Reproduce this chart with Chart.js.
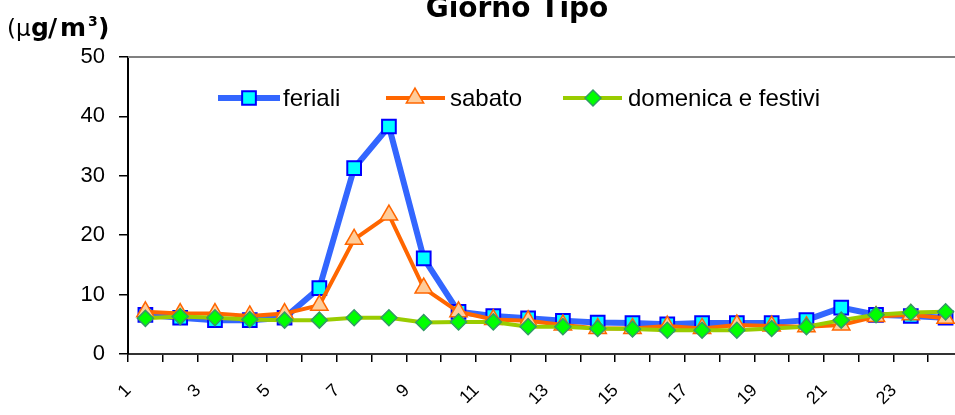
<!DOCTYPE html>
<html>
<head>
<meta charset="utf-8">
<script src="https://cdn.jsdelivr.net/npm/chart.js@4/dist/chart.umd.min.js"></script>
<style>
  html, body { margin: 0; padding: 0; overflow: hidden; background: #ffffff; }
  #c { display: block; }
</style>
</head>
<body>
<canvas id="c" width="963" height="415"></canvas>
<script>
// Hourly profile (hour of day 1..24), concentration in µg/m³
const hours = ['1','2','3','4','5','6','7','8','9','10','11','12',
               '13','14','15','16','17','18','19','20','21','22','23','24'];
const feriali  = [6.6, 6.1, 5.7, 5.7, 6.1, 11.1, 31.3, 38.3, 16.1, 7.1, 6.4, 6.0,
                  5.6, 5.3, 5.2, 5.0, 5.2, 5.2, 5.2, 5.7, 7.8, 6.6, 6.4, 6.1];
const sabato   = [7.1, 6.8, 6.8, 6.4, 6.8, 8.2, 19.3, 23.4, 11.1, 7.1, 5.8, 5.6,
                  4.9, 4.3, 4.3, 4.7, 4.3, 4.9, 4.7, 4.6, 4.9, 6.3, 6.6, 6.0];
const domenica = [6.0, 6.3, 6.1, 5.8, 5.7, 5.7, 6.1, 6.1, 5.3, 5.4, 5.4, 4.6,
                  4.6, 4.3, 4.2, 4.0, 4.0, 4.0, 4.3, 4.6, 5.7, 6.6, 7.0, 7.1];
const seriesNames = ['feriali', 'sabato', 'domenica e festivi'];
const yTicks = [0, 10, 20, 30, 40, 50];
const chartTitle = 'Giorno Tipo';

const SANS = "'Liberation Sans', Arial, sans-serif";
const WIDE = "'DejaVu Sans', Verdana, sans-serif";

// Title, unit label, plot frame and an in-plot legend (line + marker samples)
const decorations = {
  id: 'decorations',
  beforeDatasetsDraw(chart) {
    const { ctx, chartArea } = chart;
    ctx.save();
    ctx.strokeStyle = '#808080';
    ctx.lineWidth = 2;
    ctx.beginPath();
    ctx.moveTo(chartArea.left, chartArea.top);
    ctx.lineTo(chartArea.right, chartArea.top);
    ctx.stroke();
    ctx.restore();
  },
  afterDatasetsDraw(chart) {
    const { ctx } = chart;
    ctx.save();
    ctx.fillStyle = '#000';
    ctx.textBaseline = 'alphabetic';

    // chart title
    ctx.font = "bold 28px " + WIDE;
    ctx.textAlign = 'center';
    ctx.fillText(chartTitle, 517, 17);

    // unit label (µg/m³)
    ctx.textAlign = 'left';
    ctx.font = "23px " + WIDE;
    ctx.fillText('(\u03bc', 7, 36);
    ctx.font = "bold 25px " + WIDE;
    ctx.fillText('g', 31, 36);
    ctx.fillText('/', 48, 36);
    ctx.fillText('m', 60, 36);
    ctx.fillText(')', 98, 36);
    ctx.font = "bold 14px " + WIDE;
    ctx.fillText('3', 88, 26);

    // legend
    const items = [
      { ds: 0, x0: 218, x1: 280, mx: 249, tx: 283 },
      { ds: 1, x0: 386, x1: 445, mx: 415, tx: 450 },
      { ds: 2, x0: 563, x1: 622, mx: 593, tx: 628 }
    ];
    const ly = 98;
    items.forEach(it => {
      const d = chart.data.datasets[it.ds];
      ctx.strokeStyle = d.borderColor;
      ctx.lineWidth = d.borderWidth;
      ctx.beginPath();
      ctx.moveTo(it.x0, ly);
      ctx.lineTo(it.x1, ly);
      ctx.stroke();
      ctx.fillStyle = d.pointBackgroundColor;
      ctx.strokeStyle = d.pointBorderColor;
      ctx.lineWidth = d.pointBorderWidth;
      Chart.helpers.drawPoint(ctx, {
        pointStyle: d.pointStyle, rotation: 0,
        radius: d.pointRadius, borderWidth: d.pointBorderWidth
      }, it.mx, ly);
      ctx.fillStyle = '#000';
      ctx.font = "24px " + SANS;
      ctx.textAlign = 'left';
      ctx.fillText(d.label, it.tx, 106);
    });
    ctx.restore();
  }
};

new Chart(document.getElementById('c'), {
  type: 'line',
  data: {
    labels: hours,
    datasets: [
      {
        label: seriesNames[0], data: feriali, order: 3,
        borderColor: '#3366ff', borderWidth: 6,
        pointStyle: 'rect', pointRadius: 9.7,
        pointBackgroundColor: '#00ffff', pointBorderColor: '#0000ff', pointBorderWidth: 2
      },
      {
        label: seriesNames[1], data: sabato, order: 2,
        borderColor: '#ff6600', borderWidth: 4,
        pointStyle: 'triangle', pointRadius: 10,
        pointBackgroundColor: '#ffcc99', pointBorderColor: '#ff6600', pointBorderWidth: 1.5
      },
      {
        label: seriesNames[2], data: domenica, order: 1,
        borderColor: '#99cc00', borderWidth: 4,
        pointStyle: 'rectRot', pointRadius: 8,
        pointBackgroundColor: '#00ff00', pointBorderColor: '#339966', pointBorderWidth: 1.5
      }
    ]
  },
  options: {
    responsive: false,
    animation: false,
    devicePixelRatio: 1,
    layout: { autoPadding: false, padding: { top: 57, left: 0, right: 0, bottom: 0 } },
    elements: { line: { tension: 0 } },
    plugins: {
      legend: { display: false },
      title: { display: false },
      tooltip: { enabled: false }
    },
    scales: {
      x: {
        type: 'category',
        offset: true,
        grid: { offset: true, drawOnChartArea: false, tickLength: 8, color: '#000', lineWidth: 1.5 },
        border: { color: '#333', width: 2 },
        ticks: {
          autoSkip: false, minRotation: 45, maxRotation: 45, padding: 18, labelOffset: -17,
          color: '#000', font: { family: SANS, size: 18 },
          callback: (v, i) => (i % 2 === 0 ? hours[i] : '')
        },
        afterFit: s => { s.height = 61; s.paddingLeft = 0; s.paddingRight = 0; }
      },
      y: {
        min: 0, max: 50,
        afterBuildTicks: s => { s.ticks = yTicks.map(v => ({ value: v })); },
        grid: { drawOnChartArea: false, tickLength: 9, color: '#000', lineWidth: 1.5 },
        border: { color: '#000', width: 2 },
        ticks: { padding: 14, color: '#000', font: { family: SANS, size: 22 } },
        afterFit: s => { s.width = 128; }
      }
    }
  },
  plugins: [decorations]
});
</script>
</body>
</html>
